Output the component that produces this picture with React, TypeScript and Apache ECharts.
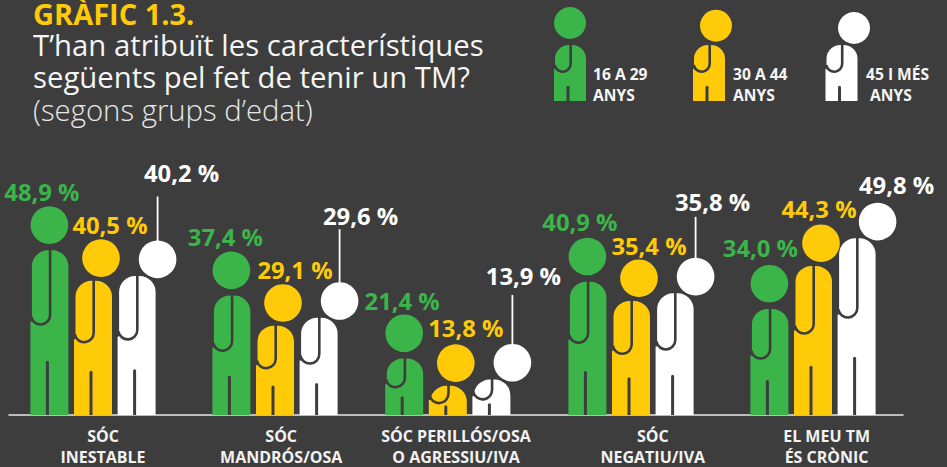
import React, { useEffect, useRef } from "react";
import * as echarts from "echarts";

const categories = ["SÓC\nINESTABLE", "SÓC\nMANDRÓS/OSA", "SÓC PERILLÓS/OSA\nO AGRESSIU/IVA", "SÓC\nNEGATIU/IVA", "EL MEU TM\nÉS CRÒNIC"];
const youngValues = [48.9, 37.4, 21.4, 40.9, 34.0];
const middleValues = [40.5, 29.1, 13.8, 35.4, 44.3];
const olderValues = [40.2, 29.6, 13.9, 35.8, 49.8];
const seriesNames = ["16 A 29 ANYS", "30 A 44 ANYS", "45 I MÉS ANYS"];

const BG = "#3d3d3d";
const GREEN = "#3bb54a";
const YELLOW = "#ffcb08";
const WHITE = "#ffffff";
const FONT = '"Open Sans", sans-serif';

// layout constants (pixels), separate from the data
const groupNudge = [-5.4, -2.2, -8.2, -3.8, -0.6];
const bodyShift = [-43.6, 0, 43.6];
const headShift = [0, 8, 21];
const headDrop = [44, 41.5, 35.5];
const labelDx = [
  [-7.5, -6, -2, -7.5, -9],
  [9, 12, 10, 10, -2],
  [24, 21, 11, 17, 19],
];
const labelDy = [
  [-14.3, -14.8, -13, -16, -17],
  [-14.5, -14.6, -16, -13.7, -15.5],
  [-68, -66.6, -67.6, -55.4, -17.8],
];
const leaderLength = [44, 53, 49, 41, 0];
const axisLabelShift = [4.6, 4, 0, 18, 13];

echarts.graphic.registerShape(
  "personBody",
  echarts.graphic.extendShape({
    type: "personBody",
    shape: { cx: 0, top: 0, base: 0, hw: 19, hu: 17.5, r: 16, join: 0 },
    buildPath(ctx: any, s: any) {
      const r = Math.min(s.r, s.base - s.top);
      ctx.moveTo(s.cx - s.hw, s.base);
      ctx.lineTo(s.cx - s.hw, s.join);
      ctx.lineTo(s.cx - s.hu, s.join);
      ctx.lineTo(s.cx - s.hu, s.top + r);
      ctx.arc(s.cx - s.hu + r, s.top + r, r, Math.PI, Math.PI * 1.5, false);
      ctx.lineTo(s.cx + s.hw - r, s.top);
      ctx.arc(s.cx + s.hw - r, s.top + r, r, Math.PI * 1.5, Math.PI * 2, false);
      ctx.lineTo(s.cx + s.hw, s.base);
      ctx.closePath();
    },
  })
);

echarts.graphic.registerShape(
  "personArm",
  echarts.graphic.extendShape({
    type: "personArm",
    shape: { x: 0, top: 0, bottom: 0, ru: 9.5 },
    buildPath(ctx: any, s: any) {
      ctx.moveTo(s.x, s.top);
      ctx.lineTo(s.x, s.bottom - s.ru);
      ctx.arc(s.x - s.ru, s.bottom - s.ru, s.ru, 0, Math.PI * 0.95, false);
    },
  })
);

function figureParts(cx: number, bodyTop: number, base: number, color: string, small: boolean) {
  const h = base - bodyTop;
  const hw = small ? 16 : 19;
  const hu = small ? 15 : 17.5;
  const ru = small ? 8 : 9.5;
  const uBottom = small ? 72.7 : bodyTop + 6 + 0.42 * h;
  const slitH = small ? 15.3 : 0.33 * h;
  return [
    {
      type: "personBody",
      shape: { cx, top: bodyTop, base, hw, hu, r: small ? 14 : 16, join: uBottom - 4 },
      style: { fill: color },
    },
    {
      type: "personArm",
      shape: { x: cx + 0.7, top: bodyTop - 1, bottom: uBottom - 1, ru },
      style: { fill: "none", stroke: BG, lineWidth: 2.6 },
    },
    {
      type: "rect",
      shape: { x: cx - 3.5, y: base - slitH, width: 3, height: slitH, r: [1.5, 1.5, 0, 0] },
      style: { fill: BG },
    },
  ];
}

function personSeries(name: string, values: number[], s: number, color: string) {
  return {
    type: "custom",
    name,
    coordinateSystem: "cartesian2d",
    clip: false,
    z: 3 + s,
    data: values.map((v, i) => [i, v]),
    encode: { x: 0, y: 1 },
    renderItem(params: any, api: any) {
      const i = api.value(0);
      const v = api.value(1);
      const pt = api.coord([i, v]);
      const base = params.coordSys.y + params.coordSys.height;
      const cx = pt[0] + groupNudge[i] + bodyShift[s];
      const headTop = pt[1];
      const headX = cx + headShift[s];
      const r = 18.8;
      const children: any[] = figureParts(cx, headTop + headDrop[s], base, color, false);
      children.push({
        type: "circle",
        shape: { cx: headX, cy: headTop + r, r },
        style: { fill: color },
      });
      if (s === 2 && leaderLength[i] > 0) {
        children.push({
          type: "line",
          shape: { x1: headX, y1: headTop + 1, x2: headX, y2: headTop - leaderLength[i] },
          style: { stroke: WHITE, lineWidth: 1.8 },
        });
      }
      children.push({
        type: "text",
        style: {
          text: v.toFixed(1).replace(".", ",") + " %",
          x: headX + labelDx[s][i],
          y: headTop + labelDy[s][i],
          textAlign: "center",
          textVerticalAlign: "middle",
          fill: color,
          fontFamily: FONT,
          fontWeight: 700,
          fontSize: 23.8,
        },
      });
      return { type: "group", children };
    },
  };
}

function txt(text: string, x: number, y: number, size: number, weight: number, fill: string) {
  return {
    type: "text",
    style: {
      text,
      x,
      y,
      fill,
      fontFamily: FONT,
      fontSize: size,
      fontWeight: weight,
      textAlign: "left",
      textVerticalAlign: "middle",
    },
  };
}

function legendFigure(cx: number, hx: number, hy: number, color: string) {
  return [
    ...figureParts(cx, 45, 101, color, true),
    { type: "circle", shape: { cx: hx, cy: hy, r: 16 }, style: { fill: color } },
  ];
}

export default function App() {
  const ref = useRef<HTMLDivElement>(null);
  useEffect(() => {
    const chart = echarts.init(ref.current!, undefined, { renderer: "svg" });
    chart.setOption({
      animation: false,
      backgroundColor: BG,
      grid: { left: 9, width: 894, top: 202, height: 214 },
      xAxis: {
        type: "category",
        data: categories.map((c, i) => ({
          value: c,
          textStyle: { padding: [0, 0, 0, axisLabelShift[i] * 2] },
        })),
        axisTick: { show: false },
        axisLine: { onZero: false, lineStyle: { color: "#e6e6e6", width: 1.5 } },
        axisLabel: {
          interval: 0,
          margin: 11,
          color: "#f2f2f2",
          fontFamily: FONT,
          fontWeight: 700,
          fontSize: 16,
          lineHeight: 20.5,
        },
      },
      yAxis: { type: "value", min: -4.18, max: 50, show: false, splitLine: { show: false } },
      series: [
        personSeries(seriesNames[0], youngValues, 0, GREEN),
        personSeries(seriesNames[1], middleValues, 1, YELLOW),
        personSeries(seriesNames[2], olderValues, 2, WHITE),
      ],
      graphic: {
        elements: [
          txt("GRÀFIC 1.3.", 33, 13.5, 29, 700, YELLOW),
          txt("T’han atribuït les característiques", 33, 45, 29.3, 400, "#f5f5f5"),
          txt("següents pel fet de tenir un TM?", 33, 77, 29.3, 400, "#f5f5f5"),
          txt("(segons grups d’edat)", 33, 110, 29.3, 300, "#e8e8e8"),
          ...legendFigure(570, 570, 23, GREEN),
          ...legendFigure(709, 716, 25.7, YELLOW),
          ...legendFigure(841.5, 854, 28, WHITE),
          txt("16 A 29", 593, 74, 15.6, 700, "#f5f5f5"),
          txt("ANYS", 593, 95, 15.6, 700, "#f5f5f5"),
          txt("30 A 44", 733, 74, 15.6, 700, "#f5f5f5"),
          txt("ANYS", 733, 95, 15.6, 700, "#f5f5f5"),
          txt("45 I MÉS", 866, 74, 15.6, 700, "#f5f5f5"),
          txt("ANYS", 870, 95, 15.6, 700, "#f5f5f5"),
        ],
      },
    });
    return () => chart.dispose();
  }, []);
  return (
    <div style={{ position: "fixed", left: 0, top: 0, width: 947, height: 467, background: BG }}>
      <div ref={ref} style={{ width: 947, height: 467 }} />
    </div>
  );
}
